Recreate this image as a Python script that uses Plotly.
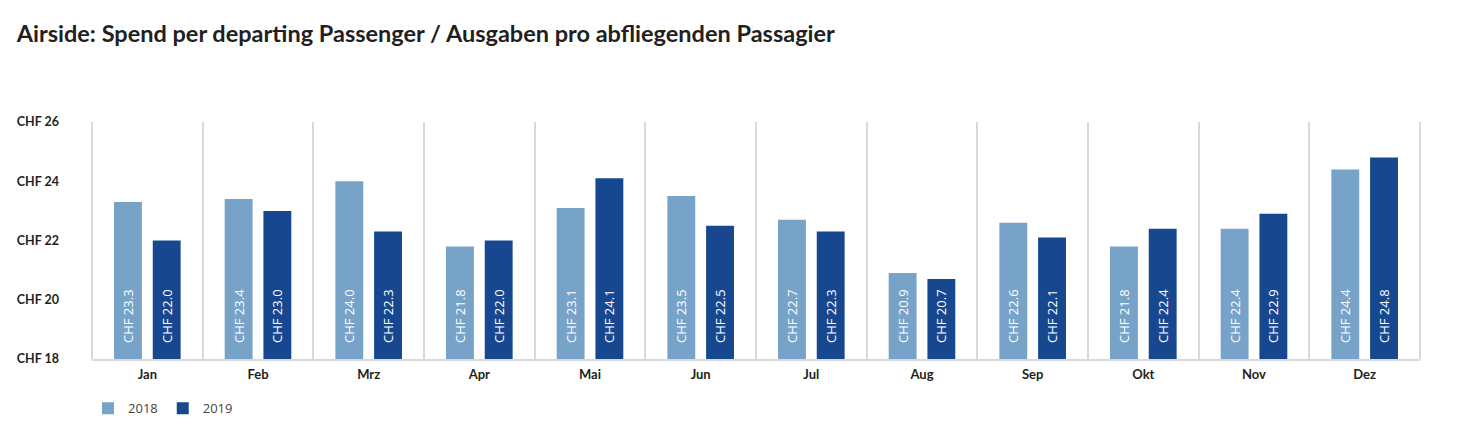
import plotly.graph_objects as go

# --- data ---
months = ["Jan", "Feb", "Mrz", "Apr", "Mai", "Jun", "Jul", "Aug", "Sep", "Okt", "Nov", "Dez"]
spend_2018 = [23.3, 23.4, 24.0, 21.8, 23.1, 23.5, 22.7, 20.9, 22.6, 21.8, 22.4, 24.4]
spend_2019 = [22.0, 23.0, 22.3, 22.0, 24.1, 22.5, 22.3, 20.7, 22.1, 22.4, 22.9, 24.8]
y_ticks = [18, 20, 22, 24, 26]
y_floor = 18  # bars start at the axis floor, as in the original

light_blue = "#77a3c9"
dark_blue = "#17488f"
text_dark = "#231f20"
grid_grey = "#d9d9d9"

fig = go.Figure()
for name, vals, col in [("2018", spend_2018, light_blue), ("2019", spend_2019, dark_blue)]:
    fig.add_trace(go.Bar(
        x=months, y=[v - y_floor for v in vals], base=y_floor,
        name=name, marker_color=col, marker_line_width=0,
        # en spaces lift the label off the bar foot like in the original
        text=[f"\u2002\u2002CHF {v:.1f}" for v in vals], textposition="inside",
        insidetextanchor="start", textangle=-90,
        textfont=dict(color="white", size=13, family="Open Sans"),
        hovertext=[f"CHF {v:.1f}" for v in vals], hoverinfo="text+name",
    ))

# the page body adds 8px on the left, so width/left margin are trimmed by that
fig.update_layout(
    width=1449, height=431,
    margin=dict(l=84, r=37, t=114, b=80),
    paper_bgcolor="white", plot_bgcolor="white",
    barmode="group", bargap=0.30, bargroupgap=0.28,
    title=dict(text="<b>Airside: Spend per departing Passenger / Ausgaben pro abfliegenden Passagier</b>",
               x=0.006, xanchor="left", y=0.94, yanchor="middle",
               font=dict(size=23.5, color=text_dark, family="Lato")),
    legend=dict(orientation="h", x=-0.003, xanchor="left", y=-0.145, yanchor="top",
                font=dict(size=13, color="#444", family="Open Sans")),
    font=dict(family="Lato", color=text_dark),
    uniformtext=dict(minsize=12, mode="show"),
    shapes=[
        dict(type="line", xref="paper", yref="paper", x0=0, x1=0, y0=0, y1=1.0,
             line=dict(color=grid_grey, width=2)),
        dict(type="line", xref="paper", yref="paper", x0=1, x1=1, y0=0, y1=1.0,
             line=dict(color=grid_grey, width=2)),
    ],
)
fig.update_xaxes(
    tickson="boundaries", showgrid=True, gridcolor=grid_grey, gridwidth=2,
    showline=True, linecolor=grid_grey, linewidth=2, ticks="",
    tickvals=months, ticktext=[f"<b>{m}</b>" for m in months],
    tickfont=dict(size=13, color=text_dark, family="Lato"),
    ticklabelstandoff=2, automargin=False,
)
fig.update_yaxes(
    range=[18, 26], tickvals=y_ticks, ticktext=[f"<b>CHF {t}</b>" for t in y_ticks],
    showgrid=False, zeroline=False, showline=False,
    tickfont=dict(size=12.5, color=text_dark, family="Lato"),
    ticklabelstandoff=32, automargin=False,
)

fig.write_html("out.html")
